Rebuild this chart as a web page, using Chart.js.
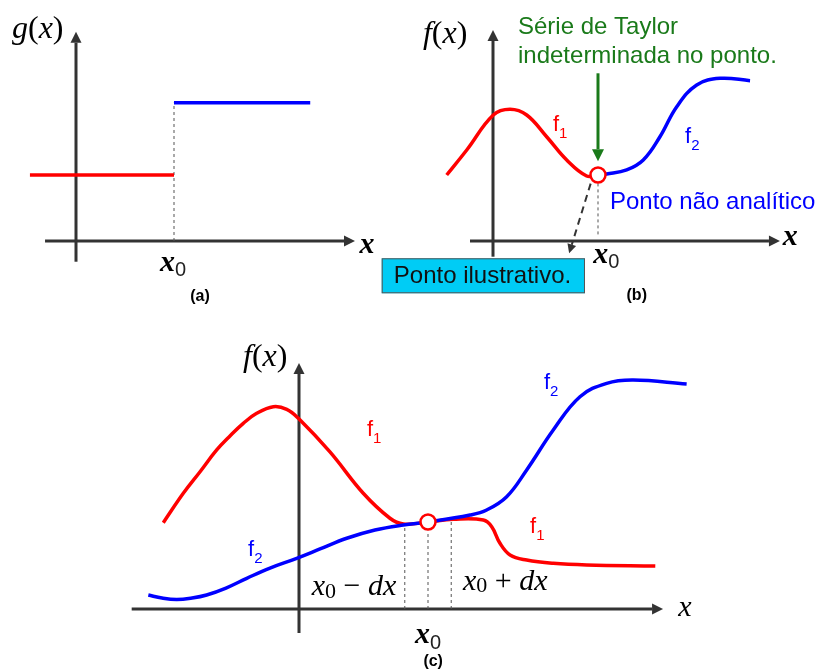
<!DOCTYPE html>
<html><head><meta charset="utf-8">
<script src="https://cdn.jsdelivr.net/npm/chart.js@4.4.0/dist/chart.umd.min.js"></script>
<style>
html,body{margin:0;padding:0;background:#fff;}
#wrap{position:relative;width:816px;height:670px;overflow:hidden;background:#fff;}
#wrap canvas{position:absolute;}
</style></head><body><div id="wrap"></div>
<script>
// ================= DATA (x in units where x0 = 1, y in units where f(x0) = 1) =================
// Panel (a): step function g(x)
const aLeftX  = [-0.47, 1.0];
const aLeftY  = [1.0, 1.0];
const aRightX = [1.0, 2.39];
const aRightY = [2.095, 2.095];
const aX0 = 1.0;

// Panel (b): f1 (red) and f2 (blue) meeting at x0
const bF1X = [-0.441, -0.250, 0.003, 0.162, 0.321, 0.511, 0.702, 0.892, 1.0];
const bF1Y = [1.0, 1.379, 1.909, 1.995, 1.909, 1.580, 1.227, 0.985, 1.0];
const bF2X = [1.0, 1.083, 1.273, 1.431, 1.590, 1.750, 1.940, 2.162, 2.448];
const bF2Y = [1.0, 1.015, 1.076, 1.227, 1.580, 2.035, 2.364, 2.465, 2.429];

// Panel (c): full f1 (red) and f2 (blue) crossing at x0
const cF1X = [-1.052, -0.897, -0.767, -0.638, -0.535, -0.432, -0.328, -0.199, -0.095, -0.005, 0.240, 0.498, 0.705, 0.809, 1.0, 1.196, 1.429, 1.494, 1.558, 1.636, 1.765, 1.971, 2.230, 2.762];
const cF1Y = [0.992, 1.330, 1.578, 1.828, 1.989, 2.134, 2.249, 2.325, 2.295, 2.192, 1.805, 1.330, 1.043, 0.977, 1.0, 1.031, 1.023, 0.946, 0.755, 0.621, 0.563, 0.525, 0.506, 0.494];
const cF2X = [-1.168, -1.062, -0.948, -0.829, -0.716, -0.566, -0.405, -0.225, -0.018, 0.163, 0.370, 0.589, 0.809, 1.0, 1.326, 1.455, 1.610, 1.765, 1.971, 2.178, 2.385, 2.591, 3.005];
const cF2Y = [0.161, 0.126, 0.109, 0.126, 0.161, 0.241, 0.353, 0.471, 0.583, 0.690, 0.813, 0.908, 0.966, 1.0, 1.080, 1.138, 1.291, 1.598, 2.057, 2.440, 2.594, 2.632, 2.586];
const cDx = 0.18;

// Texts
const taylorText = ['Série de Taylor', 'indeterminada no ponto.'];
const nonAnalyticText = 'Ponto não analítico';
const illustrativeText = 'Ponto ilustrativo.';
const panelTags = ['(a)', '(b)', '(c)'];

// ================= LAYOUT =================
const LA = {ox:76,  oy:241, ux:98,  uy:66, xmin:-0.75, xmax:3.2,  ymin:-0.95, ymax:3.55};
const LB = {ox:493, oy:241, ux:105, uy:66, xmin:-1.13, xmax:3.08, ymin:-0.98, ymax:3.6};
const LC = {ox:299, oy:609, ux:129, uy:87, xmin:-1.4,  xmax:3.12, ymin:-0.7,  ymax:3.1};

const RED = '#ff0000', BLUE = '#0000ff', GREEN = '#1a7a1a', AX = '#333333';
const SERIF = '"Liberation Serif", "DejaVu Serif", serif';
const SANS = '"Liberation Sans", Arial, sans-serif';

const toPts = (xs, ys) => xs.map((x, i) => ({x, y: ys[i]}));
const curve = (xs, ys, color, smooth) => ({
  data: toPts(xs, ys), showLine: true, borderColor: color, borderWidth: 3.5,
  pointRadius: 0, fill: false, cubicInterpolationMode: 'default', tension: smooth ? 0.4 : 0,
  borderCapStyle: 'butt', borderJoinStyle: 'round'
});
const dashV = (x, y0, y1) => ({
  data: [{x, y: y0}, {x, y: y1}], showLine: true, borderColor: '#555', borderWidth: 1,
  borderDash: [3, 3], pointRadius: 0, fill: false
});
const ring = (x, y) => ({
  data: [{x, y}], showLine: false, pointRadius: 7.5, pointBorderWidth: 2.5,
  pointBorderColor: RED, pointBackgroundColor: '#fff'
});

// rich text helpers
const part = (t, font, color, dy) => ({t, font, color: color || '#000', dy: dy || 0});
const mathX = (bold) => (bold ? 'bold ' : '') + 'italic 30px ' + SERIF;
const x0Label = (bold) => [part('x', mathX(bold)), part('0', '20px ' + SANS, '#222', 8)];
const fLabel = (n, color) => [part('f', '22px ' + SANS, color), part(String(n), '15px ' + SANS, color, 9)];
const funcLabel = (name) => [part(name, 'italic 32px ' + SERIF), part('(', '32px ' + SERIF), part('x', 'italic 32px ' + SERIF), part(')', '32px ' + SERIF)];

function drawArrow(ctx, x1, y1, x2, y2, color, width, hl, hw, dash) {
  const ang = Math.atan2(y2 - y1, x2 - x1);
  const bx = x2 - Math.cos(ang) * hl, by = y2 - Math.sin(ang) * hl;
  ctx.save();
  ctx.strokeStyle = color; ctx.fillStyle = color; ctx.lineWidth = width;
  ctx.setLineDash(dash || []);
  ctx.beginPath(); ctx.moveTo(x1, y1); ctx.lineTo(bx, by); ctx.stroke();
  ctx.setLineDash([]);
  ctx.beginPath();
  ctx.moveTo(x2, y2);
  ctx.lineTo(bx + Math.sin(ang) * hw, by - Math.cos(ang) * hw);
  ctx.lineTo(bx - Math.sin(ang) * hw, by + Math.cos(ang) * hw);
  ctx.closePath(); ctx.fill();
  ctx.restore();
}

const decor = {
  id: 'decor',
  beforeDatasetsDraw(chart, args, o) {
    const ctx = chart.ctx, xs = chart.scales.x, ys = chart.scales.y;
    const px = v => xs.getPixelForValue(v), py = v => ys.getPixelForValue(v);
    ctx.save();
    (o.boxes || []).forEach(b => {
      const x1 = px(b.x1), x2 = px(b.x2), y1 = py(b.y1), y2 = py(b.y2);
      ctx.fillStyle = b.fill; ctx.fillRect(x1, y1, x2 - x1, y2 - y1);
      ctx.strokeStyle = '#555'; ctx.lineWidth = 1; ctx.strokeRect(x1 + 0.5, y1 + 0.5, x2 - x1 - 1, y2 - y1 - 1);
    });
    const a = o.axes;
    drawArrow(ctx, px(a.x1), py(0), px(a.x2), py(0), AX, 3, 11, 5.5);
    drawArrow(ctx, px(0), py(a.y1), px(0), py(a.y2), AX, 3, 11, 5.5);
    ctx.restore();
  },
  afterDatasetsDraw(chart, args, o) {
    const ctx = chart.ctx, xs = chart.scales.x, ys = chart.scales.y;
    const px = v => xs.getPixelForValue(v), py = v => ys.getPixelForValue(v);
    (o.arrows || []).forEach(r => drawArrow(ctx, px(r.x1), py(r.y1), px(r.x2), py(r.y2), r.color, r.width, r.hl, r.hw, r.dash));
    (o.texts || []).forEach(t => {
      ctx.save();
      ctx.textBaseline = 'middle'; ctx.textAlign = 'left';
      let w = 0;
      t.parts.forEach(p => { ctx.font = p.font; w += ctx.measureText(p.t).width; });
      let x = px(t.x) - (t.align === 'center' ? w / 2 : 0);
      const y = py(t.y);
      t.parts.forEach(p => { ctx.font = p.font; ctx.fillStyle = p.color; ctx.fillText(p.t, x, y + p.dy); x += ctx.measureText(p.t).width; });
      ctx.restore();
    });
  }
};

const wrap = document.getElementById('wrap');
function makePanel(L, datasets, decorOpts) {
  const left = Math.round(L.ox + L.xmin * L.ux), right = Math.round(L.ox + L.xmax * L.ux);
  const top = Math.round(L.oy - L.ymax * L.uy), bottom = Math.round(L.oy - L.ymin * L.uy);
  const cv = document.createElement('canvas');
  cv.width = right - left; cv.height = bottom - top;
  cv.style.left = left + 'px'; cv.style.top = top + 'px';
  cv.style.width = (right - left) + 'px'; cv.style.height = (bottom - top) + 'px';
  wrap.appendChild(cv);
  return new Chart(cv, {
    type: 'scatter',
    data: {datasets},
    options: {
      responsive: false, animation: false, devicePixelRatio: 1, events: [],
      layout: {padding: 0, autoPadding: false},
      plugins: {legend: {display: false}, tooltip: {enabled: false}, decor: decorOpts},
      scales: {
        x: {type: 'linear', display: false, bounds: 'data', grace: 0, min: (left - L.ox) / L.ux, max: (right - L.ox) / L.ux},
        y: {type: 'linear', display: false, bounds: 'data', grace: 0, min: (L.oy - bottom) / L.uy, max: (L.oy - top) / L.uy}
      }
    },
    plugins: [decor]
  });
}

// ---- Panel (a)
makePanel(LA, [
  curve(aLeftX, aLeftY, RED, false),
  curve(aRightX, aRightY, BLUE, false),
  dashV(aX0, 0, aRightY[0])
], {
  axes: {x1: -0.316, x2: 2.847, y1: -0.314, y2: 3.17},
  texts: [
    {x: -0.653, y: 3.197, parts: funcLabel('g')},
    {x: 2.969, y: -0.06, align: 'center', parts: [part('x', mathX(true))]},
    {x: 0.99, y: -0.33, align: 'center', parts: x0Label(true)},
    {x: 1.265, y: -0.848, align: 'center', parts: [part(panelTags[0], 'bold 16px ' + SANS)]}
  ]
});

// ---- Panel (b)
makePanel(LB, [
  ring(1.0, 1.0),
  curve(bF1X, bF1Y, RED, true),
  curve(bF2X, bF2Y, BLUE, true),
  dashV(1.0, 0.1, 0.88)
], {
  axes: {x1: -0.219, x2: 2.733, y1: -0.238, y2: 3.197},
  boxes: [{x1: -1.06, y1: -0.262, x2: 0.876, y2: -0.792, fill: '#00ccf5'}],
  arrows: [
    {x1: 1.0, y1: 2.541, x2: 1.0, y2: 1.21, color: GREEN, width: 3, hl: 12, hw: 6},
    {x1: 0.93, y1: 0.87, x2: 0.725, y2: -0.186, color: '#333', width: 2, hl: 9, hw: 4.5, dash: [7, 5]}
  ],
  texts: [
    {x: -0.667, y: 3.12, parts: funcLabel('f')},
    {x: 0.238, y: 3.242, parts: [part(taylorText[0], '24px ' + SANS, GREEN)]},
    {x: 0.238, y: 2.803, parts: [part(taylorText[1], '24px ' + SANS, GREEN)]},
    {x: 1.114, y: 0.591, parts: [part(nonAnalyticText, '24px ' + SANS, BLUE)]},
    {x: -0.1, y: -0.53, align: 'center', parts: [part(illustrativeText, '24px ' + SANS, '#111')]},
    {x: 0.571, y: 1.758, parts: fLabel(1, RED)},
    {x: 1.829, y: 1.576, parts: fLabel(2, BLUE)},
    {x: 1.08, y: -0.21, align: 'center', parts: x0Label(true)},
    {x: 2.83, y: 0.06, align: 'center', parts: [part('x', mathX(true))]},
    {x: 1.369, y: -0.833, align: 'center', parts: [part(panelTags[1], 'bold 16px ' + SANS)]}
  ]
});

// ---- Panel (c)
makePanel(LC, [
  ring(1.0, 1.0),
  curve(cF2X, cF2Y, BLUE, true),
  curve(cF1X, cF1Y, RED, true),
  dashV(1.0 - cDx, 0, 0.96),
  dashV(1.0, 0, 0.9),
  dashV(1.0 + cDx, 0, 1.02)
], {
  axes: {x1: -1.297, x2: 2.822, y1: -0.276, y2: 2.828},
  texts: [
    {x: -0.434, y: 2.885, parts: funcLabel('f')},
    {x: 0.527, y: 2.057, parts: fLabel(1, RED)},
    {x: -0.395, y: 0.678, parts: fLabel(2, BLUE)},
    {x: 1.899, y: 2.598, parts: fLabel(2, BLUE)},
    {x: 1.791, y: 0.943, parts: fLabel(1, RED)},
    {x: 0.098, y: 0.256, parts: [part('x', 'italic 30px ' + SERIF), part('0', '22px ' + SERIF, '#000', 5), part(' − ', '30px ' + SERIF), part('dx', 'italic 30px ' + SERIF)]},
    {x: 1.271, y: 0.314, parts: [part('x', 'italic 30px ' + SERIF), part('0', '22px ' + SERIF, '#000', 5), part(' + ', '30px ' + SERIF), part('dx', 'italic 30px ' + SERIF)]},
    {x: 1.0, y: -0.3, align: 'center', parts: x0Label(true)},
    {x: 2.992, y: 0.011, align: 'center', parts: [part('x', mathX(false))]},
    {x: 1.04, y: -0.608, align: 'center', parts: [part(panelTags[2], 'bold 16px ' + SANS)]}
  ]
});
</script></body></html>
